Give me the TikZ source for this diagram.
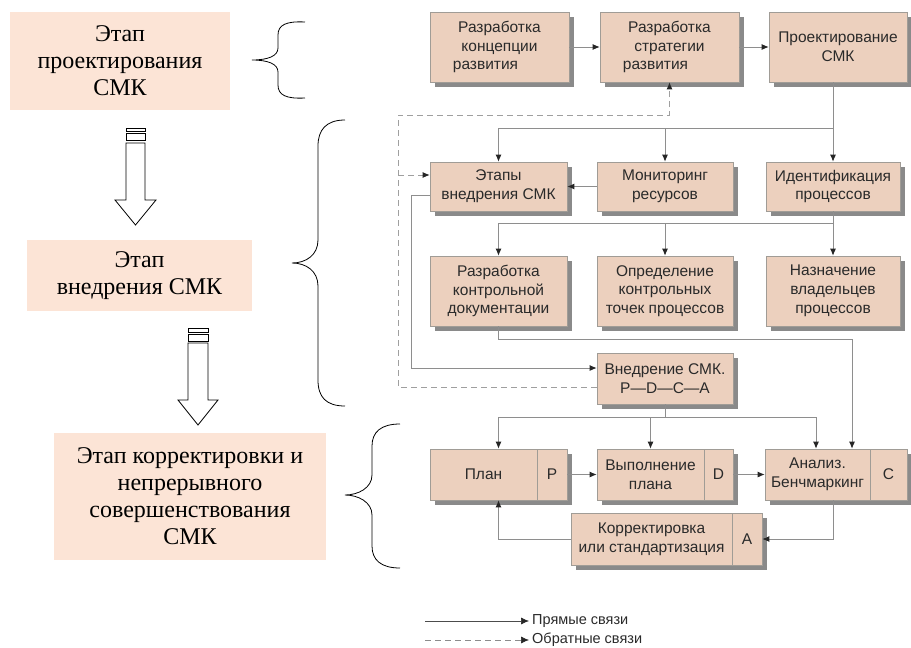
\documentclass[tikz,border=0pt]{standalone}
\usepackage{fontspec}
\setmainfont{Liberation Serif}
\newfontfamily\sansf{Liberation Sans}
\usetikzlibrary{arrows.meta,shadows}
\definecolor{stagefill}{HTML}{FCE4D6}
\definecolor{boxfill}{HTML}{ECD0BE}
\definecolor{boxline}{HTML}{A09C96}
\definecolor{linegray}{HTML}{8E8E8E}
\definecolor{shadowgray}{HTML}{8A8A8A}
\definecolor{txtgray}{HTML}{2A2A2A}
\tikzset{
  stage/.style={fill=stagefill,draw=none,align=center,inner sep=0pt,
    font=\fontsize{24}{27}\selectfont},
  pbox/.style={fill=boxfill,draw=boxline,line width=0.6pt,align=center,inner sep=0pt,
    text=txtgray,font=\sansf\fontsize{15.5}{18.8}\selectfont,
    drop shadow={shadow xshift=4.5pt,shadow yshift=-4.5pt,fill=shadowgray,opacity=1}},
  wire/.style={draw=linegray,line width=0.9pt},
  conn/.style={wire,-{Latex[length=7pt,width=6pt,color=black!85]}},
  fb/.style={draw=linegray!85,line width=0.9pt,dash pattern=on 6pt off 4pt},
  fbconn/.style={fb,-{Latex[length=7pt,width=6pt,color=black!85]}},
  blockarrow/.style={draw=black,fill=white,line width=0.8pt},
  bracepath/.style={draw=black,line width=0.8pt},
  legtext/.style={anchor=west,inner sep=0pt,text=txtgray,font=\sansf\fontsize{14.5}{16}\selectfont}
}
\begin{document}
\begin{tikzpicture}[x=1pt,y=-1pt]
\useasboundingbox (0,0) rectangle (911,648);
% ---- left stages ----
\node[stage,minimum width=220pt,minimum height=98pt] (s1) at (120,61) {Этап\\проектирования\\СМК};
\node[stage,minimum width=225pt,minimum height=71pt] (s2) at (139.5,275.5) {Этап\\внедрения СМК};
\node[stage,minimum width=272pt,minimum height=127pt] (s3) at (190,496.5) {Этап корректировки и\\непрерывного\\совершенствования\\СМК};
% block arrows
\draw[blockarrow] (126,128) rectangle (145,131);
\draw[blockarrow] (126,133) rectangle (145,140);
\draw[blockarrow] (126,143) -- (145,143) -- (145,200) -- (156,200) -- (135.5,225) -- (115,200) -- (126,200) -- cycle;
\draw[blockarrow] (188,328) rectangle (208,332);
\draw[blockarrow] (188,334) rectangle (208,341);
\draw[blockarrow] (188,343) -- (208,343) -- (208,400) -- (218,400) -- (198,425) -- (178,400) -- (188,400) -- cycle;
% braces
\draw[bracepath] (305,22) .. controls (286,21) and (278,25) .. (278,35) -- (278,48) .. controls (278,56) and (268,60) .. (252,60) .. controls (268,60) and (278,64) .. (278,72) -- (278,85) .. controls (278,95) and (286,99) .. (305,98);
\draw[bracepath] (345,120) .. controls (326,120) and (318,130) .. (318,146) -- (318,240) .. controls (318,255) and (306,263) .. (292,263) .. controls (306,263) and (318,271) .. (318,286) -- (318,380) .. controls (318,397) and (326,406) .. (345,406);
\draw[bracepath] (400,424) .. controls (381,424) and (372,432) .. (372,446) -- (372,475) .. controls (372,488) and (358,495) .. (345,495) .. controls (358,495) and (372,502) .. (372,515) -- (372,546) .. controls (372,560) and (381,568) .. (400,568);
% ---- right process diagram ----
% row 1
\node[pbox,minimum width=139pt,minimum height=70pt] (A) at (499.5,47) {Разработка\\концепции\\развития\hspace*{28pt}};
\node[pbox,minimum width=139pt,minimum height=70pt] (B) at (669.5,47) {Разработка\\стратегии\\развития\hspace*{28pt}};
\node[pbox,minimum width=138pt,minimum height=70pt] (C) at (838,47) {Проектирование\\СМК};
% row 2
\node[pbox,minimum width=137pt,minimum height=49pt] (etapy) at (498.5,186.5) {Этапы\\внедрения СМК};
\node[pbox,minimum width=136pt,minimum height=49pt] (monit) at (665,186.5) {Мониторинг\\ресурсов};
\node[pbox,minimum width=134pt,minimum height=49pt] (ident) at (833,186.5) {Идентификация\\процессов};
% row 3
\node[pbox,minimum width=137pt,minimum height=70pt] (razdoc) at (498.5,291) {Разработка\\контрольной\\документации};
\node[pbox,minimum width=136pt,minimum height=70pt] (opred) at (665,291) {Определение\\контрольных\\точек процессов};
\node[pbox,minimum width=134pt,minimum height=70pt] (nazn) at (833,291) {Назначение\\владельцев\\процессов};
% PDCA
\node[pbox,minimum width=136pt,minimum height=51pt] (pdca) at (665,378.5) {Внедрение СМК.\\P—D—C—A};
% row 4
\node[pbox,minimum width=107pt,minimum height=51pt] (plan) at (483.5,474.5) {План};
\node[pbox,minimum width=30pt,minimum height=51pt] (pc) at (552,474.5) {P};
\node[pbox,minimum width=107pt,minimum height=51pt] (vyp) at (650.5,474.5) {Выполнение\\плана};
\node[pbox,minimum width=29pt,minimum height=51pt] (dc) at (718.5,474.5) {D};
\node[pbox,minimum width=105pt,minimum height=51pt] (anal) at (817.5,474.5) {Анализ.\\Бенчмаркинг};
\node[pbox,minimum width=37pt,minimum height=51pt] (cc) at (888.5,474.5) {C};
% row 5
\node[pbox,minimum width=161pt,minimum height=52pt] (korr) at (651.5,539) {Корректировка\\или стандартизация};
\node[pbox,minimum width=30pt,minimum height=52pt] (ac) at (747,539) {A};
% rails
\coordinate (h1) at (0,128);
\coordinate (h2) at (0,223);
\coordinate (h3) at (852,339);
\coordinate (h4) at (0,417);
\coordinate (dTL) at (398,115);
\coordinate (sL) at (411,0);
\coordinate (c1) at (498.5,0);
\coordinate (c3) at (833,0);
\coordinate (cA) at (816,0);
% connectors row 1
\draw[conn] (A) -- (B);
\draw[conn] (B) -- (C);
\draw[wire] (C.south -| ident.north) -- (ident.north |- h1);
\draw[wire] (etapy.north |- h1) -- (ident.north |- h1);
\draw[conn] (etapy.north |- h1) -- (etapy.north);
\draw[conn] (monit.north |- h1) -- (monit.north);
\draw[conn] (ident.north |- h1) -- (ident.north);
\draw[conn] (monit) -- (etapy);
% row 2 -> row 3
\draw[wire] (ident.south) -- (ident.south |- h2);
\draw[wire] (razdoc.north |- h2) -- (ident.south |- h2);
\draw[conn] (razdoc.north |- h2) -- (razdoc.north);
\draw[conn] (opred.north |- h2) -- (opred.north);
\draw[conn] (nazn.north |- h2) -- (nazn.north);
% etapy -> pdca
\coordinate (eOut) at ([yshift=-8.5pt]etapy.west);
\coordinate (pIn) at ([yshift=10.5pt]pdca.west);
\coordinate (pOut) at ([yshift=-8.5pt]pdca.west);
\coordinate (eIn) at ([yshift=11.5pt]etapy.west);
\draw[conn] (eOut) -| (sL |- pIn) -- (pIn);
% feedback
\draw[fbconn] (pOut) -| (dTL) -| (B.south);
\draw[fbconn] (dTL |- eIn) -- (eIn);
% razdoc -> analiz
\draw[conn] (razdoc.south) |- (h3) -- (h3 |- anal.north);
% pdca -> row 4
\draw[wire] (pdca.south) -- (pdca.south |- h4);
\draw[wire] (c1 |- h4) -- (cA |- h4);
\draw[conn] (c1 |- h4) -- (c1 |- plan.north);
\draw[conn] (vyp.north |- h4) -- (vyp.north);
\draw[conn] (cA |- h4) -- (cA |- anal.north);
% row 4 cycle
\draw[conn] (pc) -- (vyp);
\draw[conn] (dc) -- (anal);
\draw[conn] (c3 |- anal.south) |- (ac.east);
\draw[conn] (korr.west) -| (c1 |- plan.south);
% legend
\node[legtext] (l1) at (532,621) {Прямые связи};
\node[legtext] (l2) at (532,640) {Обратные связи};
\coordinate (l1s) at (425,621);
\coordinate (l2s) at (425,640);
\draw[wire,-{Latex[length=8pt,width=7pt,color=black!85]},draw=black!70,line width=0.6pt] (l1s) -- ([xshift=-3pt]l1.west);
\draw[fb,-{Latex[length=8pt,width=7pt,color=black!85]},draw=black!45,line width=0.6pt] (l2s) -- ([xshift=-3pt]l2.west);
\end{tikzpicture}
\end{document}
